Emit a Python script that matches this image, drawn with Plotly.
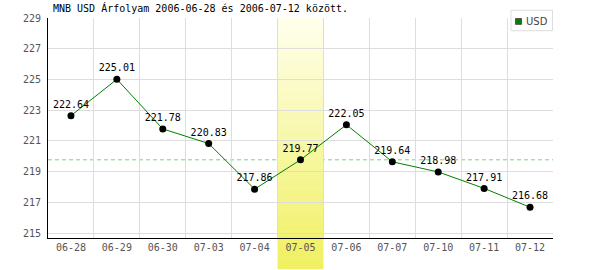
import plotly.graph_objects as go

# ---- data ----
dates = ["06-28", "06-29", "06-30", "07-03", "07-04", "07-05",
         "07-06", "07-07", "07-10", "07-11", "07-12"]
usd = [222.64, 225.01, 221.78, 220.83, 217.86, 219.77,
       222.05, 219.64, 218.98, 217.91, 216.68]
series_name = "USD"
title_text = "MNB USD Árfolyam 2006-06-28 és 2006-07-12 között."
highlight_date = "07-05"
y_ticks = [215, 217, 219, 221, 223, 225, 227, 229]

FONT = "DejaVu Sans Mono"
W, H = 600, 270
ML, MR, MT, MB = 48, 47, 13, 32

xs = list(range(len(dates)))
hi = dates.index(highlight_date)
ref_value = usd[hi]

fig = go.Figure()
fig.add_trace(go.Scatter(
    x=xs, y=usd, mode="lines+markers+text",
    text=[f"{v:.2f}" for v in usd], textposition="top center",
    textfont=dict(family=FONT, size=10, color="#000000"),
    line=dict(color="#008000", width=1),
    marker=dict(color="#000000", size=7),
    cliponaxis=False, showlegend=False, name=series_name,
))

shapes = []
# dashed reference line at the highlighted day's value
shapes.append(dict(type="line", xref="paper", yref="y", x0=0, x1=1,
                   y0=ref_value, y1=ref_value, layer="between",
                   line=dict(color="#88cc88", width=1, dash="4px,3px")))
# gradient highlight band (stacked strips), extending below the axis
plot_h = H - MT - MB
y_bottom = -MB / plot_h
n = 40
c_top = (255, 255, 238)
c_bot = (240, 240, 96)
for i in range(n):
    t = (i + 0.5) / n
    c = tuple(round(c_top[k] + (c_bot[k] - c_top[k]) * t) for k in range(3))
    y1 = 1 - (1 - y_bottom) * i / n
    y0 = 1 - (1 - y_bottom) * (i + 1) / n
    shapes.append(dict(type="rect", xref="x", yref="paper",
                       x0=hi - 0.5, x1=hi + 0.5, y0=y0, y1=y1 + 0.002,
                       layer="between", line=dict(width=0),
                       fillcolor=f"rgb{c}"))

# legend box (manual)
px = lambda p: (p - ML) / (W - ML - MR)
py = lambda p: 1 - (p - MT) / plot_h
shapes.append(dict(type="rect", xref="paper", yref="paper",
                   x0=px(511), x1=px(552.5), y0=py(26), y1=py(5),
                   line=dict(color="#dddddd", width=1), fillcolor="#ffffff",
                   layer="above"))
shapes.append(dict(type="rect", xref="paper", yref="paper",
                   x0=px(515.5), x1=px(521.5), y0=py(19.5), y1=py(13.5),
                   line=dict(color="#555555", width=1), fillcolor="#008000",
                   layer="above"))

annotations = [dict(xref="paper", yref="paper", x=px(523.5), y=py(16.5),
                    xanchor="left", yanchor="middle", showarrow=False,
                    text=series_name,
                    font=dict(family="DejaVu Sans", size=10, color="#444444"))]

fig.update_layout(
    width=W, height=H,
    margin=dict(l=ML, r=MR, t=MT, b=MB),
    paper_bgcolor="#ffffff", plot_bgcolor="#ffffff",
    shapes=shapes, annotations=annotations,
    title=dict(text=title_text, x=53 / W, xanchor="left", xref="container",
               y=1 - 8.5 / H, yanchor="middle", yref="container",
               font=dict(family=FONT, size=10, color="#000000")),
    font=dict(family=FONT, size=10, color="#555555"),
)
fig.update_xaxes(
    range=[-0.5, len(dates) - 0.5], tickvals=xs, ticktext=dates,
    showgrid=False, zeroline=False, ticks="",
    showline=True, linecolor="#000000", linewidth=1,
    minor=dict(tickvals=[i - 0.5 for i in range(len(dates) + 1)],
               showgrid=True, gridcolor="#dddddd", gridwidth=1, ticks=""),
    tickfont=dict(family=FONT, size=10, color="#555555"),
)
fig.update_yaxes(
    range=[214.68, 229], tickvals=y_ticks,
    showgrid=True, gridcolor="#dddddd", gridwidth=1, zeroline=False, ticks="",
    showline=True, linecolor="#000000", linewidth=1,
    ticklabelstandoff=4,
    tickfont=dict(family=FONT, size=10, color="#555555"),
)

fig.write_html("out.html")
